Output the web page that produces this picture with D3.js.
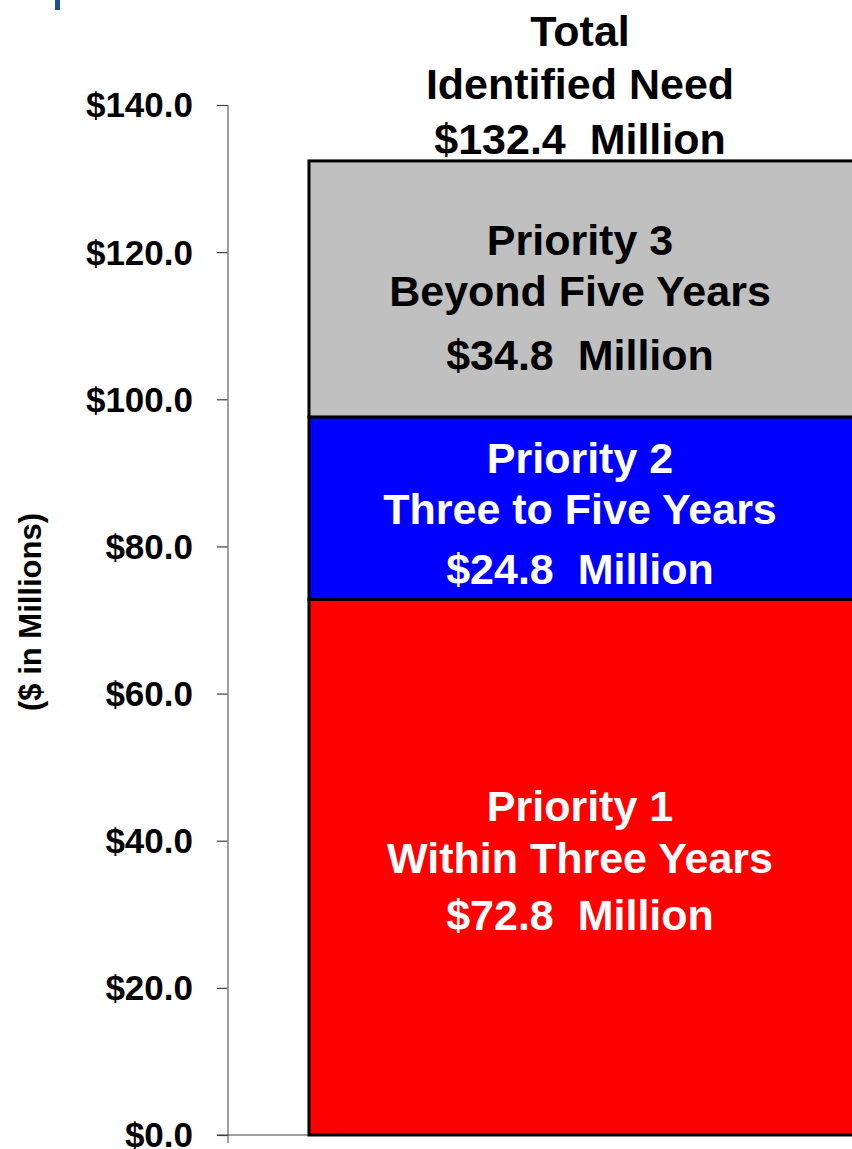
<!DOCTYPE html>
<html>
<head>
<meta charset="utf-8">
<script src="https://cdn.jsdelivr.net/npm/d3@7"></script>
<style>
  body { margin: 0; background: #fff; }
  text { font-family: "Liberation Sans", Arial, sans-serif; font-weight: bold; }
</style>
</head>
<body>
<script>
// data
var priorities = ["Priority 1", "Priority 2", "Priority 3"];
var timeframes = ["Within Three Years", "Three to Five Years", "Beyond Five Years"];
var amounts = [72.8, 24.8, 34.8];
var colors = ["#ff0000", "#0000ff", "#c0c0c0"];
var textColors = ["#ffffff", "#ffffff", "#000000"];
var yTicks = [0, 20, 40, 60, 80, 100, 120, 140];
var totalLabel = ["Total", "Identified Need", "$132.4  Million"];

var width = 852,
    height = 1149;

var svg = d3.select("body").append("svg")
    .attr("width", width)
    .attr("height", height);

// scales
var y = d3.scaleLinear()
    .domain([0, 140])
    .range([1135, 105]);

var x = d3.scaleBand()
    .domain(["Total"])
    .range([228, 935])
    .paddingInner(0)
    .paddingOuter(0.1486);

// stack the segments
var stackData = [{}];
priorities.forEach(function(p, i) { stackData[0][p] = amounts[i]; });
var series = d3.stack().keys(priorities)(stackData);

// small blue mark top-left
svg.append("rect")
    .attr("x", 55).attr("y", 0)
    .attr("width", 5).attr("height", 10)
    .attr("fill", "#1f4e8c");

// y axis
var yAxis = d3.axisLeft(y)
    .tickValues(yTicks)
    .tickSize(11)
    .tickPadding(24)
    .tickFormat(function(d) { return "$" + d3.format(".1f")(d); });

var ga = svg.append("g")
    .attr("transform", "translate(228,0)")
    .call(yAxis);
ga.select(".domain").remove();
ga.append("line")
    .attr("x1", 0).attr("x2", 0)
    .attr("y1", y(140)).attr("y2", y(0) + 8)
    .attr("stroke", "#808080").attr("stroke-width", 1.5);
ga.selectAll(".tick line").attr("stroke", "#404040").attr("stroke-width", 1.2);
ga.selectAll(".tick text")
    .attr("fill", "#000")
    .style("font-size", "35px")
    .style("font-family", "Liberation Sans, Arial, sans-serif")
    .style("font-weight", "bold")
    .attr("dy", "0.34em");

// baseline
svg.append("line")
    .attr("x1", 217).attr("x2", width)
    .attr("y1", y(0)).attr("y2", y(0))
    .attr("stroke", "#404040").attr("stroke-width", 1.2);

// y axis title
svg.append("text")
    .attr("transform", "translate(30," + 612 + ") rotate(-90)")
    .attr("text-anchor", "middle")
    .attr("dy", "0.36em")
    .style("font-size", "31px")
    .text("($ in Millions)");

// bars
svg.selectAll(".seg")
    .data(series)
    .enter().append("rect")
    .attr("class", "seg")
    .attr("x", x("Total"))
    .attr("width", x.bandwidth())
    .attr("y", function(d) { return y(d[0][1]); })
    .attr("height", function(d) { return y(d[0][0]) - y(d[0][1]); })
    .attr("fill", function(d, i) { return colors[i]; })
    .attr("stroke", "#000")
    .attr("stroke-width", 3);

// segment labels
var cx = 580;
var lineY = [
    [806, 858, 915],
    [458, 509, 569],
    [240, 291, 355]
];
series.forEach(function(s, i) {
    var g = svg.append("g").attr("fill", textColors[i]);
    var lines = [priorities[i], timeframes[i], "$" + amounts[i].toFixed(1) + "  Million"];
    lines.forEach(function(t, j) {
        g.append("text")
            .attr("x", cx)
            .attr("y", lineY[i][j])
            .attr("dy", "0.36em")
            .attr("text-anchor", "middle")
            .style("font-size", "43px")
            .style("white-space", "pre")
            .text(t);
    });
});

// total label
var totalY = [31, 84, 139];
totalLabel.forEach(function(t, j) {
    svg.append("text")
        .attr("x", cx)
        .attr("y", totalY[j])
        .attr("dy", "0.36em")
        .attr("text-anchor", "middle")
        .style("font-size", "43px")
        .style("white-space", "pre")
        .text(t);
});
</script>
</body>
</html>
